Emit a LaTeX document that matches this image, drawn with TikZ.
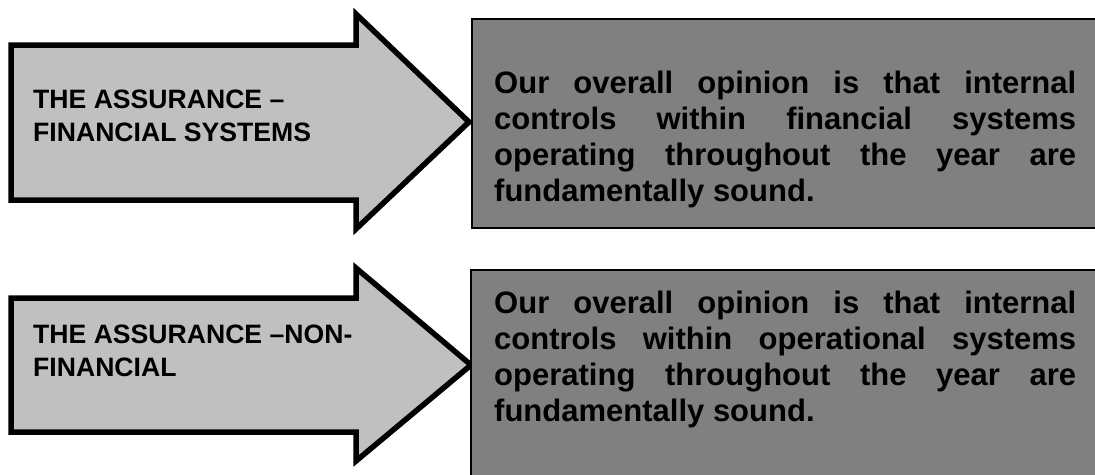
\documentclass[tikz,border=0pt]{standalone}
\usepackage{fontspec}
\setmainfont{Liberation Sans}
\usetikzlibrary{positioning}
\definecolor{arrowgray}{RGB}{192,192,192}
\definecolor{boxgray}{RGB}{128,128,128}
\newcommand{\opinionfmt}{\spaceskip=.28em plus 1em minus .02em\relax
  \hyphenpenalty=10000\relax\exhyphenpenalty=10000\relax}
\tikzset{
    %Define style for the block arrows
    bigarrow/.style={
           draw=black,
           line width=5.5pt,
           line join=miter,
           fill=arrowgray},
    %Define style for the grey boxes
    opinionbox/.style={
           draw=black,
           line width=1.3pt,
           fill=boxgray},
    % Define text styles
    headtext/.style={
           anchor=base west,
           align=left,
           inner sep=0pt,
           font=\fontsize{26.6}{33}\selectfont\bfseries},
    opiniontext/.style={
           anchor=base west,
           text width=582pt,
           align=justify,
           inner sep=0pt,
           font=\fontsize{31}{36}\selectfont\bfseries}
}

\begin{document}
\begin{tikzpicture}[x=1pt,y=-1pt]
 \clip (0,0) rectangle (1095,474);

 %arrows
 \draw[bigarrow] (11,45) -- (356,45) -- (356,14) -- (469,122) -- (356,229) -- (356,200) -- (11,200) -- cycle;
 \draw[bigarrow] (11,298) -- (356,298) -- (356,268) -- (471,365) -- (356,461) -- (356,432) -- (11,432) -- cycle;

 %boxes
 \draw[opinionbox] (472,19) rectangle (1102,228);
 \draw[opinionbox] (471,270) rectangle (1102,482);

 %texts (base = last line)
 \node[headtext](assurefin) at (33,141){THE ASSURANCE –\\FINANCIAL SYSTEMS};
 \node[headtext](assurenon) at (33,376){THE ASSURANCE –NON-\\FINANCIAL};
 \node[opiniontext](opinionfin) at (494,93){\opinionfmt Our overall opinion is that internal\linebreak controls within financial systems\linebreak operating throughout the year are\linebreak fundamentally sound.};
 \node[opiniontext](opinionnon) at (494,313){\opinionfmt Our overall opinion is that internal\linebreak controls within operational systems\linebreak operating throughout the year are\linebreak fundamentally sound.};

\end{tikzpicture}
\end{document}
